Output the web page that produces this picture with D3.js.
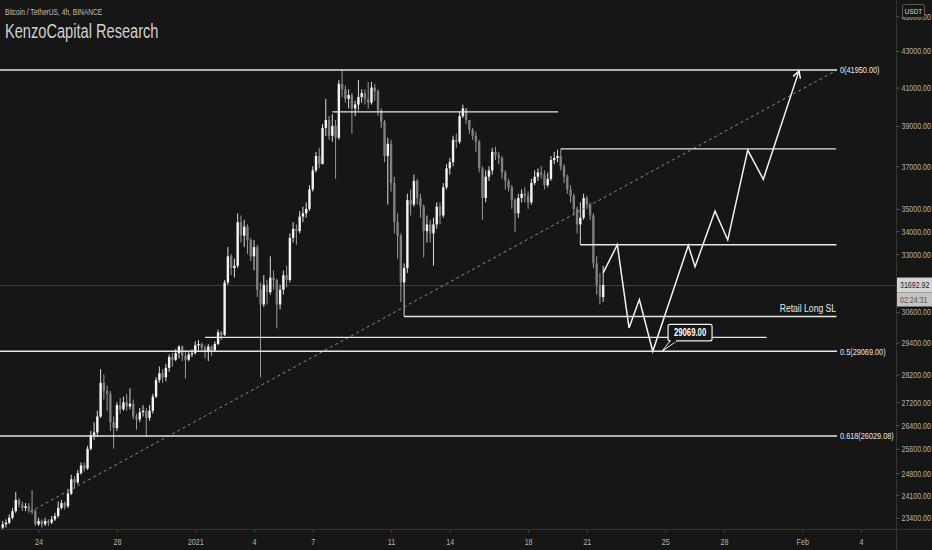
<!DOCTYPE html>
<html><head><meta charset="utf-8">
<script src="https://cdn.jsdelivr.net/npm/d3@7"></script>
<style>html,body{margin:0;padding:0;background:#161616;overflow:hidden}svg{display:block}</style>
</head><body><svg id="c" width="932" height="550"></svg>
<script>
// ---------------- data ----------------
const startTime = "2020-12-22T04:00:00Z";   // first 4h candle
const firstOpen = 23100;
const closes = [
 23200,23250,23400,23600,23950,
 23800,23700,23750,23650,23600,23200,
 23300,23200,23300,23250,23350,23450,
 23700,23850,23750,24150,24600,24500,
 24800,25050,24950,25600,26050,26150,
 26700,27900,27600,27500,26500,26300,
 27100,26950,27200,27050,27150,26700,
 26600,26850,26900,26650,26900,27400,
 28000,28250,28100,28450,28850,28750,
 29000,29250,28900,28750,28950,29000,
 29300,29350,29200,29050,29250,29100,
 29350,29800,29700,31800,32900,32400,
 32500,34400,33800,34200,33600,32900,
 33300,31500,30900,31700,31400,32000,
 31900,30900,31500,32100,31900,33700,
 34100,34000,34650,34800,35000,35900,
 36800,37500,37100,38900,39300,38500,
 39000,38400,41200,40900,40400,40600,
 39900,40100,40500,40700,40400,40200,
 41000,40800,39800,39200,37500,38100,
 36200,34400,33800,31800,32400,35400,
 35200,36300,35500,35100,34000,34300,
 33900,34300,35100,34700,36000,36900,
 37200,38300,38200,39500,39900,39300,
 38800,38500,38200,36900,35500,36500,
 36800,37700,37550,37400,36700,36300,
 36000,35400,34800,35500,35700,35600,
 35300,36200,36500,36700,36600,36100,
 36400,37300,37400,37500,37000,36500,
 35900,35600,35000,34300,34600,35500,
 35200,34700,32600,31700,31200,31692.92
];
const highs = [
 23300,23350,23500,23700,24200,
 24000,23900,23850,23850,24250,23650,
 23400,23350,23400,23350,23450,23550,
 23900,23950,23900,24300,24750,24700,
 24900,25150,25150,25700,26200,26500,
 26900,28400,28200,27800,27600,26700,
 27200,27350,27400,27500,27700,27300,
 26800,27000,27100,27000,27100,27500,
 28100,28500,28400,28600,28950,29000,
 29150,29300,29300,29100,29050,29150,
 29450,29500,29400,29300,29350,29300,
 29450,29900,29850,31900,33300,33000,
 32800,34800,34700,34500,34300,33700,
 33600,33400,31800,32100,31900,32900,
 32300,31950,31700,32300,32500,33900,
 34400,34300,34900,35100,35300,36100,
 37000,37700,37900,39100,40400,39500,
 39600,39300,41400,41950,41100,40900,
 40700,40300,41400,40900,40900,41300,
 41300,41200,40900,39900,39300,38400,
 38300,36500,34800,33900,32600,35700,
 35900,36600,36400,35700,35200,34700,
 34500,34600,35300,35300,36200,37100,
 37400,38500,38600,39700,40100,39900,
 39300,38900,38700,38300,37000,36800,
 37000,37900,37950,37700,37500,36800,
 36400,36100,35500,35700,35900,36000,
 35800,36400,36800,36900,37000,36800,
 36700,37500,37700,37800,37850,37100,
 36600,36100,35700,35100,35300,35700,
 35600,35300,34800,32900,32200,32500
];
const lows = [
 23050,23100,23200,23350,23550,
 23700,23600,23600,23550,23500,23150,
 23150,23100,23150,23150,23200,23300,
 23400,23650,23650,23700,24100,24300,
 24450,24750,24850,24900,25550,25900,
 26000,26650,27300,26900,26200,25600,
 26200,26800,26900,26900,26950,26600,
 26250,26500,26700,26000,26550,26800,
 27350,27900,27900,27950,28300,28500,
 28700,28800,28700,28050,28700,28850,
 28950,29100,29050,28800,28700,28900,
 29050,29300,29500,29650,31700,32100,
 32000,32400,33500,33300,33000,32700,
 32300,31200,28100,30800,30900,31300,
 31500,29950,30700,31300,31600,31800,
 33500,33400,33900,34400,34600,34900,
 35800,36700,36900,37100,38500,38300,
 38200,36400,38300,40500,40200,39900,
 38600,39500,39800,40200,40100,39900,
 40100,40300,39500,38900,37200,35200,
 35800,33900,32800,31000,30420,32200,
 34700,35100,35200,34600,32850,33500,
 33500,32500,34100,34300,34600,35900,
 36600,37000,37900,38100,39400,39100,
 38600,38300,37700,36700,34500,35300,
 36300,36600,37300,37100,36400,35900,
 35800,35000,33950,34600,35300,35300,
 35000,35200,36100,36300,36400,35900,
 36000,36300,37100,37200,36800,36200,
 35700,35300,34700,33900,33400,34500,
 35000,34500,32400,31300,30900,31000
];
const lastPrice = 31692.92;
const countdown = "02:24:31";
const priceTicks = [45000,43000,41000,39000,37000,35000,34000,33000,30600,29400,28200,27200,26400,25600,24800,24100,23400];
const dateTicks = ["2020-12-24","2020-12-28","2021-01-01","2021-01-04","2021-01-07","2021-01-11","2021-01-14","2021-01-18","2021-01-21","2021-01-25","2021-01-28","2021-02-01","2021-02-04"];
const dateTickLabels = ["24","28","2021","4","7","11","14","18","21","25","28","Feb","4"];
// horizontal drawings: from, to, price, label
const levelFrom = ["2020-12-21T12:00Z","2021-01-08T00:00Z","2021-01-19T16:00Z","2021-01-20T16:00Z","2021-01-11T16:00Z","2021-01-01T12:00Z","2020-12-21T12:00Z","2020-12-21T12:00Z"];
const levelTo   = ["2021-02-02T18:40Z","2021-01-19T12:45Z","2021-02-02T17:30Z","2021-02-02T18:00Z","2021-02-02T18:00Z","2021-01-30T04:20Z","2021-02-02T18:40Z","2021-02-02T18:40Z"];
const levelPrice = [41950,39720,37850,33400,30420,29600,29069,26029.08];
const levelLabel = ["0(41950.00)","","","","","","0.5(29069.00)","0.618(26029.08)"];
// dashed trend line
const trendTimes = ["2020-12-23T13:30Z","2021-02-02T18:40Z"];
const trendPrices = [23580,41950];
// projected path
const pathTimes = ["2021-01-21T20:00Z","2021-01-22T13:20Z","2021-01-23T03:40Z","2021-01-23T16:20Z","2021-01-24T08:45Z","2021-01-26T04:20Z","2021-01-26T12:35Z","2021-01-27T13:05Z","2021-01-28T04:40Z","2021-01-29T05:10Z","2021-01-30T00:15Z","2021-01-31T20:00Z"];
const pathPrices = [32200,33400,29970,31100,29069,33370,32460,34900,33610,37790,36380,41900];
const calloutTime = "2021-01-24T20:10Z", calloutPrice = 29069, calloutText = "29069.00";
const slLabel = "Retail Long SL", slLabelTime = "2021-02-02T17:30Z", slPrice = 30420;

// ---------------- chart ----------------
const W = 932, H = 550, plotR = 896, plotB = 529;
const svg = d3.select("#c");
const FONT = "'Liberation Sans','DejaVu Sans',sans-serif";
const SQ = 0.77; // horizontal squeeze to mimic the condensed chart font
// condense a text horizontally with a real transform (keeps its anchor point)
function condense(sel, f){
  sel.each(function(){
    const t = d3.select(this);
    const x0 = +t.attr("x") || 0;
    t.attr("x", x0/f).attr("transform", `scale(${f},1)`);
  });
  return sel;
}

svg.append("rect").attr("width",W).attr("height",H).attr("fill","#161616");

const x = d3.scaleUtc().domain([new Date("2020-12-24T00:00:00Z"), new Date("2021-02-04T00:00:00Z")]).range([38.6, 861]);
const y = d3.scaleLog().domain([23400, 43000]).range([517.7, 51]);

svg.append("defs").append("clipPath").attr("id","plot").append("rect").attr("x",0).attr("y",0).attr("width",plotR).attr("height",plotB);
const g = svg.append("g").attr("clip-path","url(#plot)");

// last price line
g.append("line").attr("x1",0).attr("x2",plotR).attr("y1",Math.round(y(lastPrice))+0.5).attr("y2",Math.round(y(lastPrice))+0.5)
  .attr("stroke","#3c3c3c").attr("stroke-width",1);

// candles
const t0 = new Date(startTime).getTime();
const candles = closes.map((c,i)=>{
  const o = i===0 ? firstOpen : closes[i-1];
  return {t:new Date(t0 + i*4*3600e3), o, c, h:Math.max(highs[i],o,c), l:Math.min(lows[i],o,c)};
});
const cg = g.append("g");
cg.selectAll("line.w").data(candles).join("line").attr("class","w")
  .attr("x1",d=>x(d.t)).attr("x2",d=>x(d.t)).attr("y1",d=>y(d.h)).attr("y2",d=>y(d.l))
  .attr("stroke",d=>d.c>=d.o?"#d9d9d9":"#9a9a9a").attr("stroke-width",1);
cg.selectAll("rect.b").data(candles).join("rect").attr("class","b")
  .attr("x",d=>x(d.t)-1.2).attr("width",2.4)
  .attr("y",d=>y(Math.max(d.o,d.c))).attr("height",d=>Math.max(1,Math.abs(y(d.o)-y(d.c))))
  .attr("fill",d=>d.c>=d.o?"#f4f4f4":"#808080");

// dashed trend line
g.append("line").attr("x1",x(new Date(trendTimes[0]))).attr("y1",y(trendPrices[0]))
  .attr("x2",x(new Date(trendTimes[1]))).attr("y2",y(trendPrices[1]))
  .attr("stroke","#8a8a8a").attr("stroke-width",1).attr("stroke-dasharray","3,3");

// horizontal levels
levelPrice.forEach((p,i)=>{
  g.append("line").attr("x1",x(new Date(levelFrom[i]))).attr("x2",x(new Date(levelTo[i])))
   .attr("y1",y(p)).attr("y2",y(p)).attr("stroke","#e6e6e6").attr("stroke-width",1.4);
});

// projected zigzag
const pts = pathTimes.map((t,i)=>[x(new Date(t)), y(pathPrices[i])]);
g.append("path").attr("d",d3.line()(pts)).attr("fill","none").attr("stroke","#f2f2f2").attr("stroke-width",1.5).attr("stroke-linejoin","miter");
{
  const [x1,y1] = pts[pts.length-2], [x2,y2] = pts[pts.length-1];
  const a = Math.atan2(y1-y2, x1-x2), L = 8, s = 0.5;
  const p1 = [x2+L*Math.cos(a+s), y2+L*Math.sin(a+s)], p2 = [x2+L*Math.cos(a-s), y2+L*Math.sin(a-s)];
  g.append("path").attr("d",d3.line()([p1,[x2,y2],p2])).attr("fill","none").attr("stroke","#f2f2f2").attr("stroke-width",1.5);
}

// level labels
levelLabel.forEach((lab,i)=>{
  if(!lab) return;
  condense(svg.append("text").attr("x",x(new Date(levelTo[i]))+3).attr("y",y(levelPrice[i])+3.2)
   .attr("fill","#e8e8e8").attr("font-family",FONT).attr("font-size",9.5).text(lab), SQ);
});
condense(svg.append("text").attr("x",x(new Date(slLabelTime))).attr("y",y(slPrice)-4).attr("text-anchor","end")
  .attr("fill","#e8e8e8").attr("font-family",FONT).attr("font-size",10.5).text(slLabel), 0.82);

// callout
{
  const px = x(new Date(calloutTime)), py = y(calloutPrice);
  const bx = px+6, by = py-27, bw = 44, bh = 16.5;
  svg.append("path").attr("d",`M${px},${py} L${bx+2},${by+bh} L${bx+9},${by+bh} Z`).attr("fill","#161616").attr("stroke","#f2f2f2").attr("stroke-width",1);
  svg.append("rect").attr("x",bx).attr("y",by).attr("width",bw).attr("height",bh).attr("rx",2)
    .attr("fill","#161616").attr("stroke","#f2f2f2").attr("stroke-width",1.2);
  svg.append("rect").attr("x",bx+2.5).attr("y",by+bh-1.5).attr("width",5.5).attr("height",3).attr("fill","#161616");
  condense(svg.append("text").attr("x",bx+bw/2).attr("y",by+12).attr("text-anchor","middle")
    .attr("fill","#ffffff").attr("font-family",FONT).attr("font-weight","bold").attr("font-size",10.5).text(calloutText), 0.74);
}

// axes frame lines
svg.append("line").attr("x1",0).attr("x2",W).attr("y1",plotB+0.5).attr("y2",plotB+0.5).attr("stroke","#333");
svg.append("line").attr("x1",plotR+0.5).attr("x2",plotR+0.5).attr("y1",0).attr("y2",H).attr("stroke","#333");

// right price axis
const ya = svg.append("g").attr("transform",`translate(${plotR+0.5},0)`)
  .call(d3.axisRight(y).tickValues(priceTicks).tickFormat(d3.format(".2f")).tickSize(3).tickPadding(2));
ya.select(".domain").remove();
ya.selectAll(".tick line").attr("stroke","#555");
condense(ya.selectAll(".tick text").attr("fill","#b4b4b4").attr("font-family",FONT).attr("font-size",9.3), 0.76);

// bottom date axis
const xa = svg.append("g").attr("transform",`translate(0,${plotB+0.5})`)
  .call(d3.axisBottom(x).tickValues(dateTicks.map(d=>new Date(d+"T00:00:00Z"))).tickFormat((d,i)=>dateTickLabels[i]).tickSize(3).tickPadding(6));
xa.select(".domain").remove();
xa.selectAll(".tick line").attr("stroke","#444");
condense(xa.selectAll(".tick text").attr("fill","#b4b4b4").attr("font-family",FONT).attr("font-size",9.3), SQ);

// USDT badge (covers the top tick label as in the original)
svg.append("rect").attr("x",902.5).attr("y",4.5).attr("width",22).attr("height",13).attr("rx",2)
  .attr("fill","#161616").attr("stroke","#5a5a5a");
condense(svg.append("text").attr("x",913.5).attr("y",14).attr("text-anchor","middle").attr("fill","#d8d8d8")
  .attr("font-family",FONT).attr("font-size",8).text("USDT"), 0.8);

// last price label + countdown
{
  const py = y(lastPrice);
  svg.append("rect").attr("x",plotR+1).attr("y",py-7.5).attr("width",36).attr("height",15).attr("fill","#d4d4d4");
  condense(svg.append("text").attr("x",plotR+4).attr("y",py+3.3).attr("fill","#222").attr("font-family",FONT).attr("font-size",9.3)
    .text(d3.format(".2f")(lastPrice)), 0.76);
  svg.append("rect").attr("x",plotR+1).attr("y",py+7.5).attr("width",36).attr("height",14).attr("fill","#c4c4c4");
  condense(svg.append("text").attr("x",plotR+4).attr("y",py+17.8).attr("fill","#555").attr("font-family",FONT).attr("font-size",9.3)
    .text(countdown), 0.76);
}

// titles
condense(svg.append("text").attr("x",5).attr("y",15).attr("fill","#c0c0c0").attr("font-family",FONT).attr("font-size",9.5)
  .text("Bitcoin / TetherUS, 4h, BINANCE"), 0.7);
condense(svg.append("text").attr("x",5).attr("y",38).attr("fill","#d0d0d0").attr("font-family",FONT).attr("font-size",19.5)
  .text("KenzoCapital Research"), 0.75);
</script></body></html>
